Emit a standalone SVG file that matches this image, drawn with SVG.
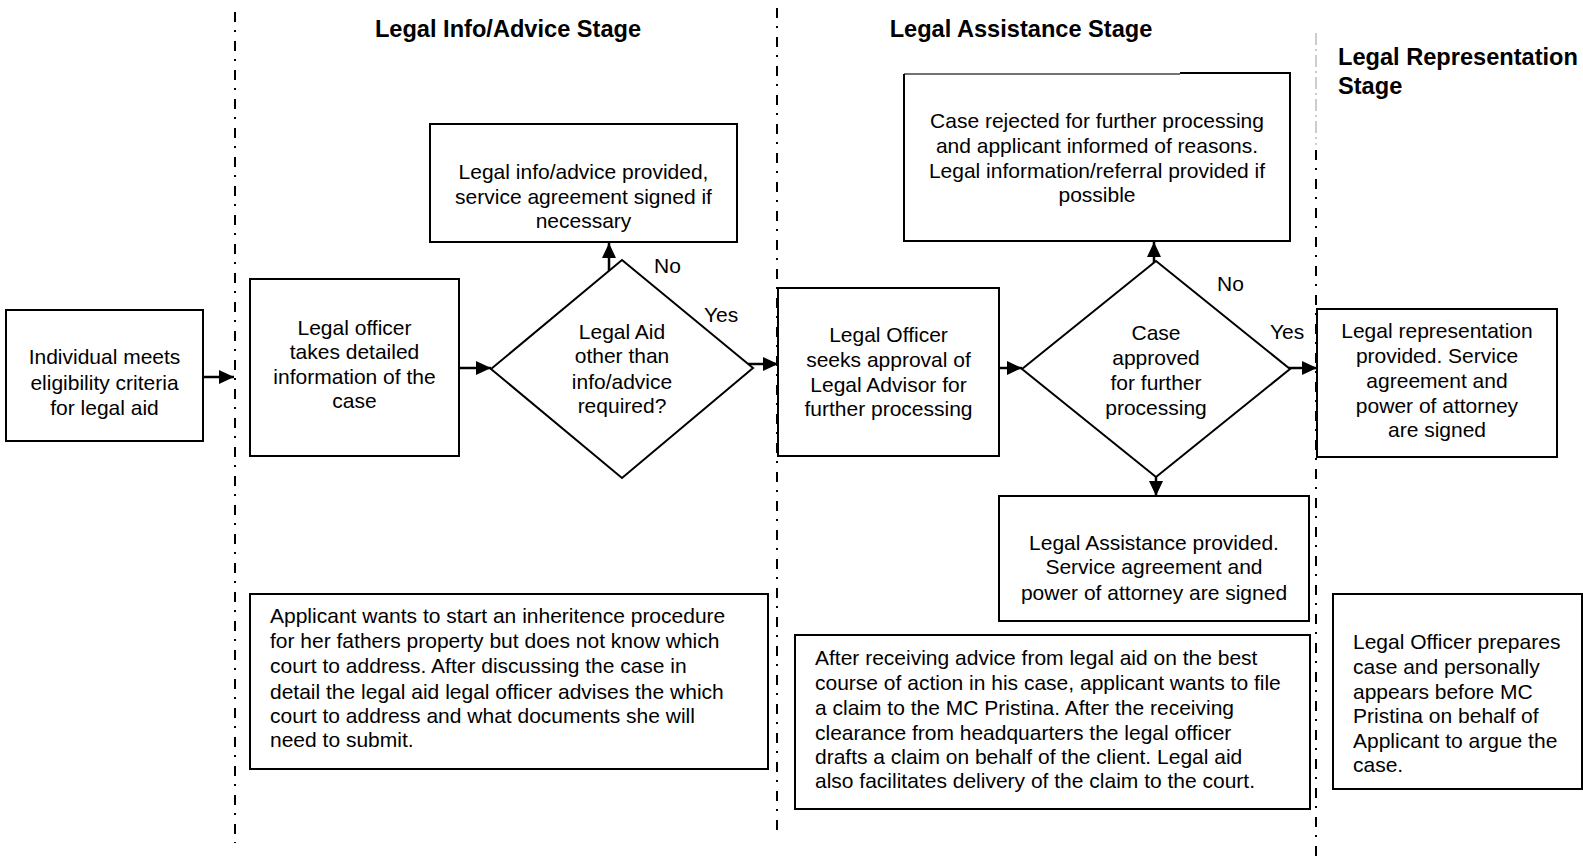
<svg xmlns="http://www.w3.org/2000/svg" width="1583" height="863" viewBox="0 0 1583 863">
  <defs>
    <marker id="arrow" markerUnits="userSpaceOnUse" markerWidth="16" markerHeight="16" viewBox="0 0 16 16" refX="15" refY="8" orient="auto">
      <path d="M0,1 L15,8 L0,15 Z" fill="#000"/>
    </marker>
    <style>
      .box { fill: #fff; stroke: #000; stroke-width: 2; }
      .t { font-family: "Liberation Sans", Arial, sans-serif; font-size: 21px; fill: #000; }
      .c { text-anchor: middle; }
      .h { font-family: "Liberation Sans", Arial, sans-serif; font-size: 23.6px; font-weight: bold; fill: #000; }
      .div { stroke: #000; stroke-width: 2; stroke-dasharray: 10 8 2 9; fill: none; }
      .divlight { stroke: #9a9a9a; stroke-width: 1; stroke-dasharray: 12 4 2 4; fill: none; }
      .conn { stroke: #000; stroke-width: 2.5; fill: none; marker-end: url(#arrow); }
    </style>
  </defs>
  <rect width="1583" height="863" fill="#fff"/>

  <!-- stage dividers -->
  <g id="dividers">
    <line class="div" x1="235" y1="12" x2="235" y2="843"/>
    <line class="div" x1="777" y1="8" x2="777" y2="838"/>
    <line class="divlight" x1="1316" y1="33" x2="1316" y2="145"/>
    <line class="div" x1="1316" y1="150" x2="1316" y2="863"/>
  </g>

  <!-- stage headings -->
  <g id="headings">
    <text class="h" x="508" y="37" text-anchor="middle">Legal Info/Advice Stage</text>
    <text class="h" x="1021" y="37" text-anchor="middle">Legal Assistance Stage</text>
    <text class="h" x="1338" y="65">Legal Representation</text>
    <text class="h" x="1338" y="94">Stage</text>
  </g>

  <!-- connectors -->
  <g id="connectors">
    <line class="conn" x1="203" y1="377" x2="234" y2="377"/>
    <line class="conn" x1="459" y1="368" x2="491" y2="368"/>
    <line class="conn" x1="609" y1="271" x2="609" y2="243"/>
    <line class="conn" x1="748" y1="364" x2="778" y2="364"/>
    <line class="conn" x1="999" y1="368" x2="1022" y2="368"/>
    <line class="conn" x1="1154" y1="264" x2="1154" y2="242"/>
    <line class="conn" x1="1288" y1="368" x2="1317" y2="368"/>
    <line class="conn" x1="1156" y1="476" x2="1156" y2="496"/>
    <text class="t" x="654" y="273">No</text>
    <text class="t" x="704" y="322">Yes</text>
    <text class="t" x="1217" y="291">No</text>
    <text class="t" x="1270" y="339">Yes</text>
  </g>

  <g id="eligibility">
    <rect class="box" x="6" y="310" width="197" height="131"/>
    <text class="t c" x="104.5"><tspan x="104.5" y="364">Individual meets</tspan><tspan x="104.5" y="390">eligibility criteria</tspan><tspan x="104.5" y="415">for legal aid</tspan></text>
  </g>

  <g id="detailed-info">
    <rect class="box" x="250" y="279" width="209" height="177"/>
    <text class="t c"><tspan x="354.5" y="335">Legal officer</tspan><tspan x="354.5" y="359">takes detailed</tspan><tspan x="354.5" y="384">information of the</tspan><tspan x="354.5" y="408">case</tspan></text>
  </g>

  <g id="decision-aid">
    <polygon class="box" points="491,369 622,260 753,368 622,478"/>
    <text class="t c"><tspan x="622" y="339">Legal Aid</tspan><tspan x="622" y="363">other than</tspan><tspan x="622" y="389">info/advice</tspan><tspan x="622" y="413">required?</tspan></text>
  </g>

  <g id="advice-provided">
    <rect class="box" x="430" y="124" width="307" height="118"/>
    <text class="t c"><tspan x="583.5" y="179">Legal info/advice provided,</tspan><tspan x="583.5" y="204">service agreement signed if</tspan><tspan x="583.5" y="228">necessary</tspan></text>
  </g>

  <g id="seek-approval">
    <rect class="box" x="778" y="288" width="221" height="168"/>
    <text class="t c"><tspan x="888.5" y="342">Legal Officer</tspan><tspan x="888.5" y="367">seeks approval of</tspan><tspan x="888.5" y="392">Legal Advisor for</tspan><tspan x="888.5" y="416">further processing</tspan></text>
  </g>

  <g id="decision-approved">
    <polygon class="box" points="1022,369 1156,261 1290,369 1156,477"/>
    <text class="t c"><tspan x="1156" y="340">Case</tspan><tspan x="1156" y="365">approved</tspan><tspan x="1156" y="390">for further</tspan><tspan x="1156" y="415">processing</tspan></text>
  </g>

  <g id="case-rejected">
    <rect x="904" y="74" width="386" height="167" fill="#fff" stroke="none"/>
    <path d="M904,74 L1180,74" stroke="#444" stroke-width="1.5" fill="none"/>
    <path d="M1180,73 L1290,73 L1290,241 L904,241 L904,74" stroke="#000" stroke-width="2" fill="none"/>
    <text class="t c"><tspan x="1097" y="128">Case rejected for further processing</tspan><tspan x="1097" y="153">and applicant informed of reasons.</tspan><tspan x="1097" y="178">Legal information/referral provided if</tspan><tspan x="1097" y="202">possible</tspan></text>
  </g>

  <g id="representation-provided">
    <rect class="box" x="1317" y="309" width="240" height="148"/>
    <text class="t c"><tspan x="1437" y="338">Legal representation</tspan><tspan x="1437" y="363">provided. Service</tspan><tspan x="1437" y="388">agreement and</tspan><tspan x="1437" y="413">power of attorney</tspan><tspan x="1437" y="437">are signed</tspan></text>
  </g>

  <g id="assistance-provided">
    <rect class="box" x="999" y="496" width="310" height="125"/>
    <text class="t c"><tspan x="1154" y="550">Legal Assistance provided.</tspan><tspan x="1154" y="574">Service agreement and</tspan><tspan x="1154" y="600">power of attorney are signed</tspan></text>
  </g>

  <g id="example-advice">
    <rect class="box" x="250" y="594" width="518" height="175"/>
    <text class="t"><tspan x="270" y="623">Applicant wants to start an inheritence procedure</tspan><tspan x="270" y="648">for her fathers property but does not know which</tspan><tspan x="270" y="673">court to address. After discussing the case in</tspan><tspan x="270" y="699">detail the legal aid legal officer advises the which</tspan><tspan x="270" y="723">court to address and what documents she will</tspan><tspan x="270" y="747">need to submit.</tspan></text>
  </g>

  <g id="example-assistance">
    <rect class="box" x="795" y="635" width="515" height="174"/>
    <text class="t"><tspan x="815" y="665">After receiving advice from legal aid on the best</tspan><tspan x="815" y="690">course of action in his case, applicant wants to file</tspan><tspan x="815" y="715">a claim to the MC Pristina. After the receiving</tspan><tspan x="815" y="740">clearance from headquarters the legal officer</tspan><tspan x="815" y="764">drafts a claim on behalf of the client. Legal aid</tspan><tspan x="815" y="788">also facilitates delivery of the claim to the court.</tspan></text>
  </g>

  <g id="example-representation">
    <rect class="box" x="1333" y="594" width="249" height="195"/>
    <text class="t"><tspan x="1353" y="649">Legal Officer prepares</tspan><tspan x="1353" y="674">case and personally</tspan><tspan x="1353" y="699">appears before MC</tspan><tspan x="1353" y="723">Pristina on behalf of</tspan><tspan x="1353" y="748">Applicant to argue the</tspan><tspan x="1353" y="772">case.</tspan></text>
  </g>
</svg>
